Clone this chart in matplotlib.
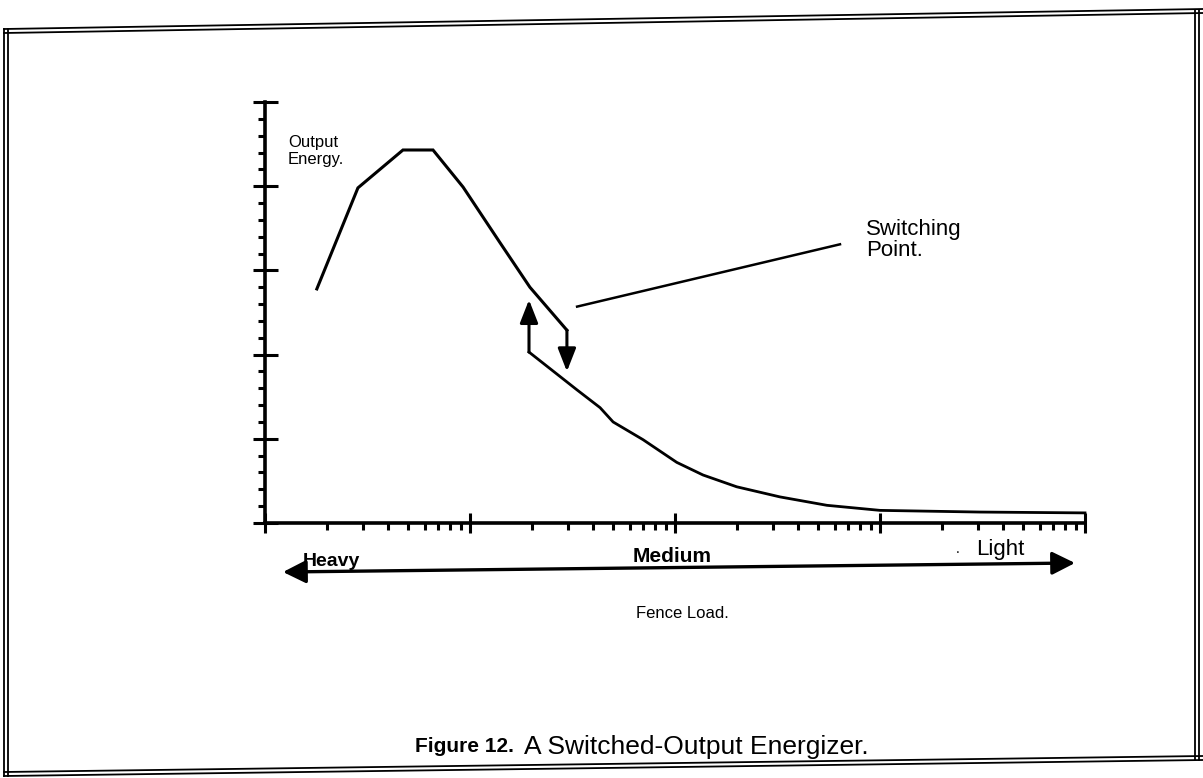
import numpy as np
import matplotlib
matplotlib.use("Agg")
import matplotlib.pyplot as plt
from matplotlib.lines import Line2D
from matplotlib.patches import FancyArrowPatch
from matplotlib.ticker import LogLocator, MultipleLocator, NullFormatter

plt.rcParams['font.family'] = ['Liberation Sans', 'DejaVu Sans']

# ---- data ----
upper_x = [1.79, 2.84, 4.71, 6.60, 9.25, 14.0, 19.6, 29.7]
upper_y = [2.78, 3.98, 4.43, 4.43, 3.99, 3.33, 2.80, 2.29]
switch_down_y = 1.80          # tip of the downward arrow at x = 29.7
lower_x = [19.4, 33.3, 43.1, 49.9, 69.8, 102, 137, 200, 325, 551, 1000, 3070, 10000]
lower_y = [2.03, 1.58, 1.37, 1.20, 0.99, 0.72, 0.57, 0.43, 0.31, 0.21, 0.15, 0.13, 0.12]
switch_up_y = 2.65            # tip of the upward arrow at x = 19.4
pointer_x = [33.3, 638]
pointer_y = [2.57, 3.31]

x_limits = [1, 10000]
y_limits = [0, 5]

W, H = 1203, 778
fig = plt.figure(figsize=(W / 100, H / 100), dpi=100)
fig.patch.set_facecolor('white')

def fx(px):
    return px / W

def fy(py):
    return 1 - py / H

# ---- frame (scanned double border, slightly tilted) ----
for off in (0, 4):
    fig.add_artist(Line2D([fx(4), fx(1203)], [fy(29 + off), fy(9 + off)], color='black', lw=1.3))
    fig.add_artist(Line2D([fx(4), fx(1203)], [fy(776 - off), fy(760 - off)], color='black', lw=1.3))
    fig.add_artist(Line2D([fx(4 + off), fx(4 + off)], [fy(29), fy(776)], color='black', lw=1.3))
    fig.add_artist(Line2D([fx(1199 - off), fx(1199 - off)], [fy(10), fy(760)], color='black', lw=1.3))

# ---- axes ----
ax = fig.add_axes([fx(265), fy(523), fx(1085) - fx(265), fy(102) - fy(523)])
ax.set_xscale('log')
ax.set_xlim(*x_limits)
ax.set_ylim(*y_limits)
for s in ('top', 'right'):
    ax.spines[s].set_visible(False)
for s in ('left', 'bottom'):
    ax.spines[s].set_linewidth(2.6)
ax.set_facecolor('none')

ax.xaxis.set_major_locator(LogLocator(base=10, numticks=10))
ax.xaxis.set_minor_locator(LogLocator(base=10, subs=np.arange(2, 10), numticks=20))
ax.xaxis.set_major_formatter(NullFormatter())
ax.xaxis.set_minor_formatter(NullFormatter())
ax.yaxis.set_major_locator(MultipleLocator(1))
ax.yaxis.set_minor_locator(MultipleLocator(0.2))
ax.yaxis.set_major_formatter(NullFormatter())
ax.tick_params(axis='x', which='major', direction='inout', length=14, width=2.2)
ax.tick_params(axis='x', which='minor', direction='out', length=5, width=2.2)
ax.tick_params(axis='y', which='major', direction='inout', length=18, width=2.2)
ax.tick_params(axis='y', which='minor', direction='out', length=5, width=2.2)

# upper branch, ending in the downward switch arrow
ax.plot(upper_x, upper_y, color='black', lw=2.2, solid_joinstyle='miter', clip_on=False)
ax.annotate('', xy=(upper_x[-1], switch_down_y), xytext=(upper_x[-1], upper_y[-1]),
            arrowprops=dict(arrowstyle='-|>,head_length=1.4,head_width=0.55', color='black',
                            lw=2.2, shrinkA=0, shrinkB=0))
# lower branch, starting with the upward switch arrow
ax.plot(lower_x, lower_y, color='black', lw=2.0, clip_on=False)
ax.annotate('', xy=(lower_x[0], switch_up_y), xytext=(lower_x[0], lower_y[0]),
            arrowprops=dict(arrowstyle='-|>,head_length=1.4,head_width=0.55', color='black',
                            lw=2.2, shrinkA=0, shrinkB=0))

# "Switching Point." pointer line
ax.plot(pointer_x, pointer_y, color='black', lw=1.8)

# ---- texts ----
fig.text(fx(288), fy(151), 'Output\nEnergy.', fontsize=12, ha='left', va='center', linespacing=1.15)
fig.text(fx(866), fy(240), 'Switching\nPoint.', fontsize=16, ha='left', va='center', linespacing=1.0)

# load direction arrow
fig.add_artist(FancyArrowPatch(
    (fx(283), fy(572)), (fx(1075), fy(563)), transform=fig.transFigure,
    arrowstyle='<|-|>,head_length=14,head_width=7', color='black', lw=2.4,
    shrinkA=0, shrinkB=0, mutation_scale=1))
fig.text(fx(303), fy(561), 'Heavy', fontsize=14, fontweight='bold', ha='left', va='center')
fig.text(fx(633), fy(556), 'Medium', fontsize=15, fontweight='bold', ha='left', va='center')
fig.text(fx(976), fy(549), 'Light', fontsize=16, ha='left', va='center')
fig.text(fx(958), fy(549), '.', fontsize=10, ha='center', va='center')
fig.text(fx(682), fy(613), 'Fence Load.', fontsize=12, ha='center', va='center')

fig.text(fx(415), fy(747), 'Figure 12.', fontsize=15, fontweight='bold', ha='left', va='center')
fig.text(fx(524), fy(747), 'A Switched-Output Energizer.', fontsize=19, ha='left', va='center')

fig.savefig('out.png', dpi=100, facecolor='white')
